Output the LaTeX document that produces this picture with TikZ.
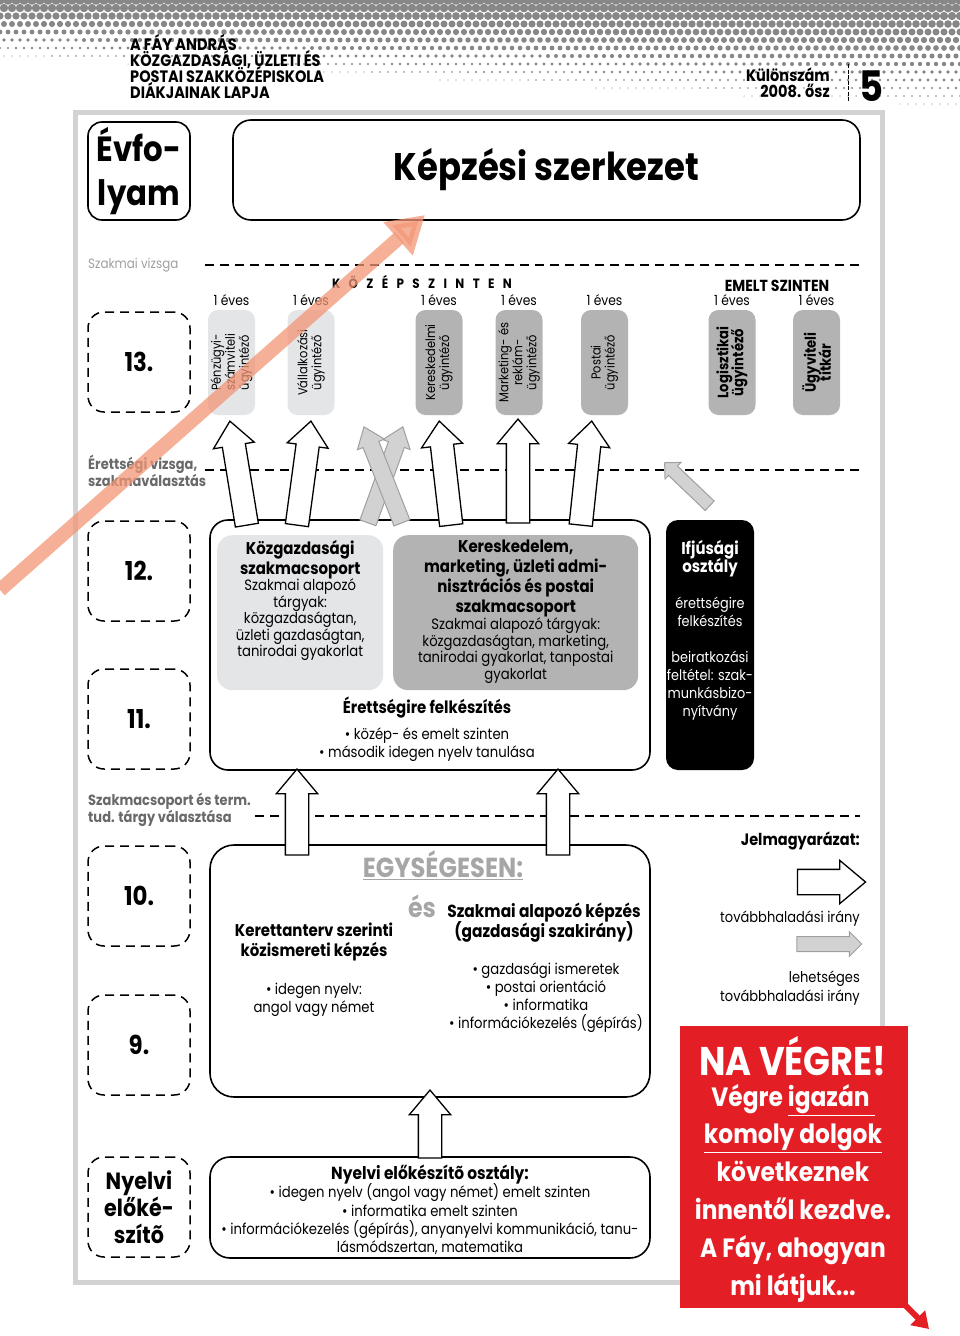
\documentclass[tikz,border=0pt]{standalone}
\usepackage{fontspec}
\setmainfont{Poppins}[FakeStretch=0.88]
\usepackage{xcolor}
\usetikzlibrary{positioning, arrows.meta, shapes.arrows, calc}

\definecolor{boxlight}{RGB}{228,229,231}
\definecolor{boxdark}{RGB}{179,179,179}
\definecolor{faired}{RGB}{228,30,37}
\definecolor{salmon}{RGB}{243,150,118}
\definecolor{labelgray}{RGB}{105,105,105}
\definecolor{dotgray}{RGB}{135,135,135}
\setlength{\lineskiplimit}{-20pt}

% block arrow between two named points
\newcommand\blockarr[3]{%
  \path let \p1=(#2), \p2=(#3), \n1={atan2(\y2-\y1,\x2-\x1)}, \n2={veclen(\x2-\x1,\y2-\y1)} in
    node[#1, rotate=\n1, minimum height=\n2] at ($(#2)!0.5!(#3)$) {};}

\begin{document}
\begin{tikzpicture}[x=1pt, y=-1pt,
  panel/.style={draw, line width=1.6pt, rounded corners=16pt},
  rowlbl/.style={draw, line width=1.5pt, dash pattern=on 9pt off 6pt, rounded corners=16pt, minimum width=102pt, minimum height=100pt, align=center, font=\bfseries\fontsize{26}{27}\selectfont},
  colbox/.style={rounded corners=10pt, minimum width=105pt, minimum height=47pt, rotate=90, align=center, inner sep=1pt, font=\fontsize{13}{14}\selectfont},
  yr/.style={font=\fontsize{14}{15}\selectfont, inner sep=0pt},
  level/.style={line width=1.4pt, dash pattern=on 9pt off 6pt},
  side/.style={anchor=west, align=left, inner sep=0pt, text=labelgray, font=\bfseries\fontsize{14.8}{16.5}\selectfont},
  txt/.style={align=center, inner sep=0pt, font=\fontsize{15}{16.5}\selectfont},
  bigarr/.style={single arrow, draw, fill=white, line width=1.3pt, inner sep=11pt, single arrow head extend=9pt, single arrow tip angle=80},
  greyarr/.style={single arrow, draw=gray!75, fill=gray!35, line width=1pt, inner sep=8pt, single arrow head extend=6pt, single arrow tip angle=75},
  smallarr/.style={greyarr, inner sep=6pt, single arrow head extend=5pt, single arrow tip angle=90},
]
\useasboundingbox (0,0) rectangle (960,1336);

% halftone header
\foreach \i in {0,...,120}{
  \foreach \j in {0,...,15}{
    \pgfmathsetmacro\dotr{4.8*(1-\j*8/(64+56*\i/120))}
    \ifdim\dotr pt>0.5pt \fill[dotgray] ({\i*8+4*mod(\j,2)},\j*8) circle (\dotr pt);\fi
  }
}

% Header texts
\node[anchor=north west, align=left, inner sep=0pt, font=\bfseries\fontsize{16.5}{16}\selectfont] (lap) at (130,34) {A FÁY ANDRÁS\\KÖZGAZDASÁGI, ÜZLETI ÉS\\POSTAI SZAKKÖZÉPISKOLA\\DIÁKJAINAK LAPJA};
\node[anchor=north east, align=right, inner sep=0pt, font=\bfseries\fontsize{16.5}{16}\selectfont] (szam) at (830,68) {Különszám\\2008. ősz};
\draw[line width=1pt, dash pattern=on 4pt off 1.5pt] (848,64) -- (848,102);
\node[font=\bfseries\fontsize{42}{42}\selectfont] (num) at (872,86) {5};

% Frame
\draw[line width=5pt, draw=gray!35] (75,112) rectangle (882,1282);

% Title row
\node[panel, rounded corners=14pt, minimum width=102pt, minimum height=98pt, align=center, font=\bfseries\fontsize{35}{44}\selectfont] (evf) at (139,171) {Évfo-\\lyam};
\node[panel, rounded corners=18pt, minimum width=627pt, minimum height=100pt, font=\bfseries\fontsize{38.5}{40}\selectfont] (title) at (546.5,170) {Képzési szerkezet};

% Levels
\node[side, text=gray!75, font=\fontsize{13.5}{16}\selectfont] (vizsga) at (88,265) {Szakmai vizsga};
\draw[level] (205,265) -- (860,265);
\node[side] (erett) at (88,471) {Érettségi vizsga,\\szakmaválasztás};
\draw[level] (205,470) -- (860,470);
\node[side] (valaszt) at (88,810) {Szakmacsoport és term.\\tud. tárgy választása};
\draw[level] (255,816) -- (860,816);

\node[font=\bfseries\fontsize{13.5}{14}\selectfont] (kozep) at (422,282) {\addfontfeature{LetterSpace=62}KÖZÉPSZINTEN};
\node[font=\bfseries\fontsize{16}{16}\selectfont] (emelt) at (777,286) {EMELT SZINTEN};

% Row labels
\node[rowlbl] (r13) at (139,362) {13.};
\node[rowlbl] (r12) at (139,571) {12.};
\node[rowlbl] (r11) at (139,719) {11.};
\node[rowlbl] (r10) at (139,896) {10.};
\node[rowlbl] (r9) at (139,1045) {9.};
\node[rowlbl, font=\bfseries\fontsize{23.5}{27}\selectfont] (rny) at (139,1207) {Nyelvi\\előké-\\szítõ};

% Year 13 courses
\node[colbox, fill=boxlight] (pen) at (231.5,362.5) {Pénzügyi-\\számviteli\\ügyintéző};
\node[colbox, fill=boxlight] (val) at (311,362.5) {Vállalkozási\\ügyintéző};
\node[colbox, fill=boxdark] (ker) at (439,362.5) {Kereskedelmi\\ügyintéző};
\node[colbox, fill=boxdark] (mar) at (519,362.5) {Marketing- és\\reklám-\\ügyintéző};
\node[colbox, fill=boxdark] (pos) at (604.5,362.5) {Postai\\ügyintéző};
\node[colbox, fill=boxdark, font=\bfseries\fontsize{15}{15}\selectfont] (log) at (732,362.5) {Logisztikai\\ügyintéző};
\node[colbox, fill=boxdark, font=\bfseries\fontsize{15}{15}\selectfont] (tit) at (816.5,362.5) {Ügyviteli\\titkár};
\foreach \c in {pen,val,ker,mar,pos,log,tit}{
  \node[yr, above=4pt of \c.east] {1 éves};
}

% Years 11-12
\node[panel, rounded corners=18pt, minimum width=440pt, minimum height=250pt] (mid) at (430,645) {};
\node[fill=boxlight, rounded corners=15pt, minimum width=166pt, minimum height=155pt, anchor=north west] (kozg) at (217,535) {};
\node[txt, below=5pt of kozg.north] (kozgt) {\textbf{\fontsize{17}{20}\selectfont Közgazdasági}\\[3.5pt]\textbf{\fontsize{17}{20}\selectfont szakmacsoport}\\Szakmai alapozó\\tárgyak:\\közgazdaságtan,\\üzleti gazdaságtan,\\tanirodai gyakorlat};
\node[fill=boxdark, rounded corners=15pt, minimum width=245pt, minimum height=155pt, anchor=north west] (kers) at (393,535) {};
\node[txt, below=5pt of kers.north] (kerst) {\textbf{\fontsize{17}{20}\selectfont Kereskedelem,}\\[3.5pt]\textbf{\fontsize{17}{20}\selectfont marketing, üzleti admi-}\\[3.5pt]\textbf{\fontsize{17}{20}\selectfont nisztrációs és postai}\\[3.5pt]\textbf{\fontsize{17}{20}\selectfont szakmacsoport}\\[0.5pt]Szakmai alapozó tárgyak:\\közgazdaságtan, marketing,\\tanirodai gyakorlat, tanpostai\\gyakorlat};
\node[txt, font=\bfseries\fontsize{17}{18}\selectfont] (felk) at (427,708) {Érettségire felkészítés};
\node[txt, below=9pt of felk] (felkl) {• közép- és emelt szinten\\[1pt]• második idegen nyelv tanulása};

\node[fill=black, rounded corners=12pt, minimum width=88pt, minimum height=250pt] (ifj) at (710,645) {};
\node[txt, text=white, below=20pt of ifj.north, font=\fontsize{14.6}{18}\selectfont] (ifjt) {\textbf{\fontsize{17}{19}\selectfont Ifjúsági}\\\textbf{\fontsize{17}{19}\selectfont osztály}\\[18pt]érettségire\\felkészítés\\[18pt]beiratkozási\\feltétel: szak-\\munkásbizo-\\nyítvány};

% Years 9-10
\node[panel, rounded corners=24pt, minimum width=440pt, minimum height=252pt] (low) at (430,971) {};
\node[font=\bfseries\fontsize{27.5}{28}\selectfont, text=gray!70] (egys) at (443,865) {\underline{EGYSÉGESEN:}};
\node[font=\bfseries\fontsize{27}{28}\selectfont, text=gray!70] (es) at (422,906) {és};
\node[txt, font=\bfseries\fontsize{17.5}{20}\selectfont] (szakm) at (544,923) {Szakmai alapozó képzés\\(gazdasági szakirány)};
\node[txt, font=\bfseries\fontsize{17}{20}\selectfont] (kert) at (314,942) {Kerettanterv szerinti\\közismereti képzés};
\node[txt, font=\fontsize{15}{18}\selectfont] (nyelv) at (314,1000) {• idegen nyelv:\\angol vagy német};
\node[txt, font=\fontsize{15}{18}\selectfont] (gazd) at (546,998) {• gazdasági ismeretek\\• postai orientáció\\• informatika\\• információkezelés (gépírás)};

% Language preparatory year
\node[panel, rounded corners=20pt, minimum width=440pt, minimum height=101pt] (nyel) at (430,1207.5) {};
\node[txt, font=\fontsize{15}{18.3}\selectfont] (nyelt) at (430,1210) {\textbf{\fontsize{17.5}{18.3}\selectfont Nyelvi előkészítõ osztály:}\\• idegen nyelv (angol vagy német) emelt szinten\\• informatika emelt szinten\\• információkezelés (gépírás), anyanyelvi kommunikáció, tanu-\\lásmódszertan, matematika};

% Arrows between the levels
\coordinate (a1b) at (248,532); \coordinate (a1e) at (231,428);
\coordinate (a2b) at (296,532); \coordinate (a2e) at (310,428);
\coordinate (x1b) at (366,528); \coordinate (x1e) at (401,432);
\coordinate (x2b) at (404,528); \coordinate (x2e) at (366,432);
\coordinate (a3b) at (452,532); \coordinate (a3e) at (440,428);
\coordinate (a4b) at (518,530); \coordinate (a4e) at (518,426);
\coordinate (a5b) at (580,532); \coordinate (a5e) at (591,428);
\coordinate (gb) at (712,508); \coordinate (ge) at (667,465);
\blockarr{greyarr}{x1b}{x1e}
\blockarr{greyarr}{x2b}{x2e}
\foreach \a in {a1,a2,a3,a4,a5}{
  \blockarr{bigarr}{\a b}{\a e}
}
\blockarr{smallarr}{gb}{ge}

\coordinate (b1b) at (297,862); \coordinate (b1e) at (297,776);
\coordinate (b2b) at (558,862); \coordinate (b2e) at (558,776);
\coordinate (c1b) at (430,1165); \coordinate (c1e) at (430,1097);
\foreach \a in {b1,b2,c1}{
  \blockarr{bigarr}{\a b}{\a e}
}

% Legend
\node[anchor=east, inner sep=0pt, font=\bfseries\fontsize{16.5}{17}\selectfont] (jel) at (860,841) {Jelmagyarázat:};
\coordinate (l1b) at (790,882); \coordinate (l1e) at (858,882);
\blockarr{bigarr, inner sep=12pt}{l1b}{l1e}
\node[anchor=east, inner sep=0pt, font=\fontsize{14.8}{18}\selectfont] (tov) at (860,919) {továbbhaladási irány};
\coordinate (l2b) at (793,944); \coordinate (l2e) at (858,944);
\blockarr{smallarr, inner sep=7pt}{l2b}{l2e}
\node[anchor=east, align=right, inner sep=0pt, font=\fontsize{14.8}{19}\selectfont] (leh) at (860,988) {lehetséges\\továbbhaladási irány};

% Red note
\node[fill=faired, minimum width=228pt, minimum height=282pt, anchor=north west] (red) at (680,1026) {};
\node[text=white, font=\bfseries\fontsize{40}{40}\selectfont] (nav) at (793,1056) {NA VÉGRE!};
\node[text=white, align=center, font=\bfseries\fontsize{26.5}{37.8}\selectfont] (navt) at (793,1193) {Végre \underline{igazán\ }\\\underline{komoly dolgok}\\következnek\\innentől kezdve.\\A Fáy, ahogyan\\mi látjuk...};
\coordinate (redtip) at (929,1329);
\draw[line width=6pt, faired, -{Triangle[width=20pt, length=16pt]}] ($(red.south east)+(-6,-6)$) -- (redtip);

% Orange overlay arrow
\coordinate (orb) at (0,590); \coordinate (ore) at (425,215);
\draw[line width=14pt, draw=salmon, opacity=0.75, -{Triangle[width=42pt, length=36pt]}] (orb) -- (ore);

\end{tikzpicture}
\end{document}
